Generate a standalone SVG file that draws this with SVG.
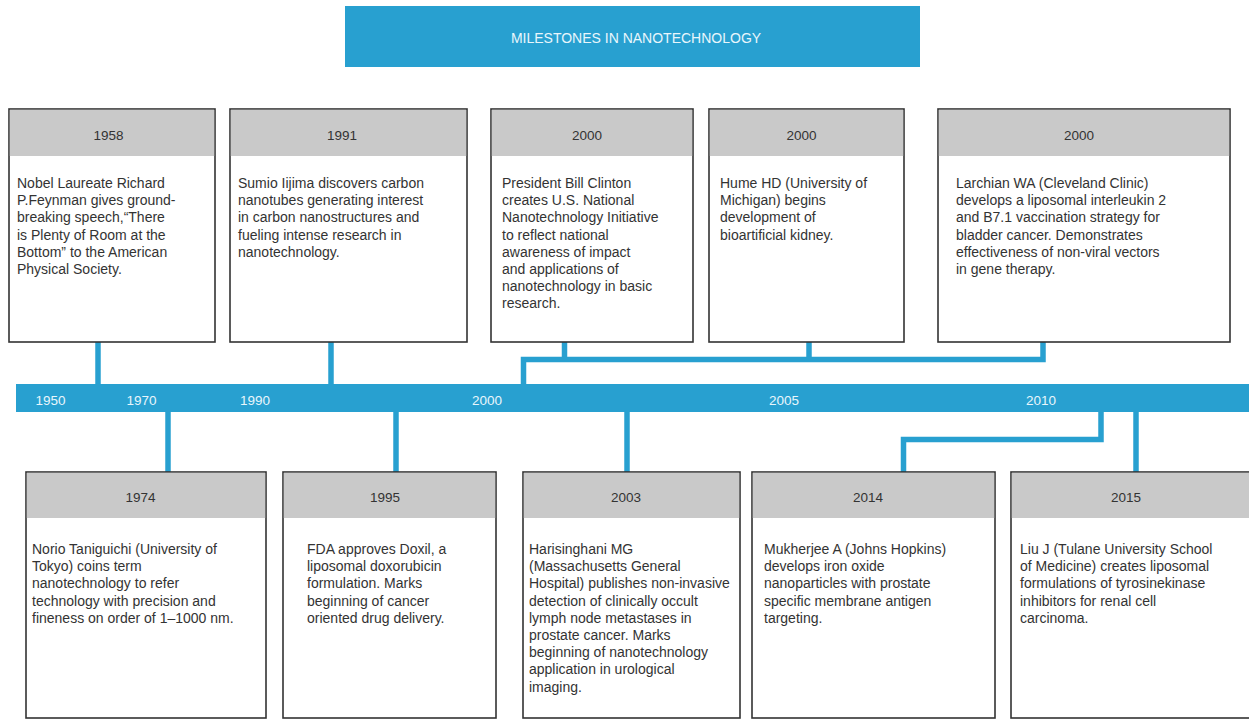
<svg xmlns="http://www.w3.org/2000/svg" width="1249" height="719" viewBox="0 0 1249 719">
<style>
.box{fill:#fff;stroke:#333;stroke-width:1.6}
.hdr{fill:#c9c9c9}
.yr{font-family:"Liberation Sans",Arial,sans-serif;font-size:13.5px;fill:#333;text-anchor:middle}
.body{font-family:"Liberation Sans",Arial,sans-serif;font-size:14px;fill:#333}
.tl{font-family:"Liberation Sans",Arial,sans-serif;font-size:13.5px;fill:#e8f6fc;text-anchor:middle}
.conn{fill:none;stroke:#28a0d0;stroke-width:5.5}
</style>
<rect width="1249" height="719" fill="#fff"/>
<g id="title">
<rect x="345" y="6" width="575" height="61" fill="#28a0d0"/>
<text x="636" y="43" font-family="'Liberation Sans',Arial,sans-serif" font-size="14" fill="#e8f6fc" text-anchor="middle">MILESTONES IN NANOTECHNOLOGY</text>
</g>
<g id="connectors">
<polyline class="conn" points="98,342 98,386"/>
<polyline class="conn" points="331,342 331,386"/>
<polyline class="conn" points="564.5,342 564.5,359.5"/>
<polyline class="conn" points="809,342 809,359.5"/>
<polyline class="conn" points="523.5,386 523.5,359.5 1043,359.5 1043,342"/>
<polyline class="conn" points="168,411 168,472"/>
<polyline class="conn" points="396,411 396,472"/>
<polyline class="conn" points="627,411 627,472"/>
<polyline class="conn" points="903.5,472 903.5,439.5 1101,439.5 1101,411"/>
<polyline class="conn" points="1136,411 1136,472"/>
</g>
<g id="timeline">
<rect x="16" y="384" width="1240" height="28" fill="#28a0d0"/>
<text class="tl" x="50.5" y="405">1950</text>
<text class="tl" x="141.5" y="405">1970</text>
<text class="tl" x="255" y="405">1990</text>
<text class="tl" x="487" y="405">2000</text>
<text class="tl" x="784" y="405">2005</text>
<text class="tl" x="1041" y="405">2010</text>
</g>
<g id="m1958">
<rect class="box" x="9" y="109" width="206" height="233"/>
<rect class="hdr" x="9.8" y="109.8" width="204.4" height="46.2"/>
<text class="yr" x="108.5" y="140">1958</text>
<text class="body" x="17" y="188"><tspan x="17">Nobel Laureate Richard</tspan><tspan x="17" dy="17.2">P.Feynman gives ground-</tspan><tspan x="17" dy="17.2">breaking speech,“There</tspan><tspan x="17" dy="17.2">is Plenty of Room at the</tspan><tspan x="17" dy="17.2">Bottom” to the American</tspan><tspan x="17" dy="17.2">Physical Society.</tspan></text>
</g>
<g id="m1991">
<rect class="box" x="230" y="109" width="237" height="233"/>
<rect class="hdr" x="230.8" y="109.8" width="235.4" height="46.2"/>
<text class="yr" x="342" y="140">1991</text>
<text class="body" x="238" y="188"><tspan x="238">Sumio Iijima discovers carbon</tspan><tspan x="238" dy="17.2">nanotubes generating interest</tspan><tspan x="238" dy="17.2">in carbon nanostructures and</tspan><tspan x="238" dy="17.2">fueling intense research in</tspan><tspan x="238" dy="17.2">nanotechnology.</tspan></text>
</g>
<g id="m2000a">
<rect class="box" x="491" y="109" width="202" height="233"/>
<rect class="hdr" x="491.8" y="109.8" width="200.4" height="46.2"/>
<text class="yr" x="587" y="140">2000</text>
<text class="body" x="502" y="188"><tspan x="502">President Bill Clinton</tspan><tspan x="502" dy="17.2">creates U.S. National</tspan><tspan x="502" dy="17.2">Nanotechnology Initiative</tspan><tspan x="502" dy="17.2">to reflect national</tspan><tspan x="502" dy="17.2">awareness of impact</tspan><tspan x="502" dy="17.2">and applications of</tspan><tspan x="502" dy="17.2">nanotechnology in basic</tspan><tspan x="502" dy="17.2">research.</tspan></text>
</g>
<g id="m2000b">
<rect class="box" x="709" y="109" width="195" height="233"/>
<rect class="hdr" x="709.8" y="109.8" width="193.4" height="46.2"/>
<text class="yr" x="801.5" y="140">2000</text>
<text class="body" x="720" y="188"><tspan x="720">Hume HD (University of</tspan><tspan x="720" dy="17.2">Michigan) begins</tspan><tspan x="720" dy="17.2">development of</tspan><tspan x="720" dy="17.2">bioartificial kidney.</tspan></text>
</g>
<g id="m2000c">
<rect class="box" x="938" y="109" width="292" height="233"/>
<rect class="hdr" x="938.8" y="109.8" width="290.4" height="46.2"/>
<text class="yr" x="1079" y="140">2000</text>
<text class="body" x="956" y="188"><tspan x="956">Larchian WA (Cleveland Clinic)</tspan><tspan x="956" dy="17.2">develops a liposomal interleukin 2</tspan><tspan x="956" dy="17.2">and B7.1 vaccination strategy for</tspan><tspan x="956" dy="17.2">bladder cancer. Demonstrates</tspan><tspan x="956" dy="17.2">effectiveness of non-viral vectors</tspan><tspan x="956" dy="17.2">in gene therapy.</tspan></text>
</g>
<g id="m1974">
<rect class="box" x="26" y="472" width="240" height="246"/>
<rect class="hdr" x="26.8" y="472.8" width="238.4" height="45.2"/>
<text class="yr" x="140.5" y="502">1974</text>
<text class="body" x="32" y="554"><tspan x="32">Norio Taniguichi (University of</tspan><tspan x="32" dy="17.2">Tokyo) coins term</tspan><tspan x="32" dy="17.2">nanotechnology to refer</tspan><tspan x="32" dy="17.2">technology with precision and</tspan><tspan x="32" dy="17.2">fineness on order of 1–1000 nm.</tspan></text>
</g>
<g id="m1995">
<rect class="box" x="283" y="472" width="213" height="246"/>
<rect class="hdr" x="283.8" y="472.8" width="211.4" height="45.2"/>
<text class="yr" x="385" y="502">1995</text>
<text class="body" x="307" y="554"><tspan x="307">FDA approves Doxil, a</tspan><tspan x="307" dy="17.2">liposomal doxorubicin</tspan><tspan x="307" dy="17.2">formulation. Marks</tspan><tspan x="307" dy="17.2">beginning of cancer</tspan><tspan x="307" dy="17.2">oriented drug delivery.</tspan></text>
</g>
<g id="m2003">
<rect class="box" x="523" y="472" width="217" height="246"/>
<rect class="hdr" x="523.8" y="472.8" width="215.4" height="45.2"/>
<text class="yr" x="626" y="502">2003</text>
<text class="body" x="529" y="554"><tspan x="529">Harisinghani MG</tspan><tspan x="529" dy="17.2">(Massachusetts General</tspan><tspan x="529" dy="17.2">Hospital) publishes non-invasive</tspan><tspan x="529" dy="17.2">detection of clinically occult</tspan><tspan x="529" dy="17.2">lymph node metastases in</tspan><tspan x="529" dy="17.2">prostate cancer. Marks</tspan><tspan x="529" dy="17.2">beginning of nanotechnology</tspan><tspan x="529" dy="17.2">application in urological</tspan><tspan x="529" dy="17.2">imaging.</tspan></text>
</g>
<g id="m2014">
<rect class="box" x="752" y="472" width="243" height="246"/>
<rect class="hdr" x="752.8" y="472.8" width="241.4" height="45.2"/>
<text class="yr" x="868" y="502">2014</text>
<text class="body" x="764" y="554"><tspan x="764">Mukherjee A (Johns Hopkins)</tspan><tspan x="764" dy="17.2">develops iron oxide</tspan><tspan x="764" dy="17.2">nanoparticles with prostate</tspan><tspan x="764" dy="17.2">specific membrane antigen</tspan><tspan x="764" dy="17.2">targeting.</tspan></text>
</g>
<g id="m2015">
<rect class="box" x="1011" y="472" width="245" height="246"/>
<rect class="hdr" x="1011.8" y="472.8" width="243.4" height="45.2"/>
<text class="yr" x="1126" y="502">2015</text>
<text class="body" x="1020" y="554"><tspan x="1020">Liu J (Tulane University School</tspan><tspan x="1020" dy="17.2">of Medicine) creates liposomal</tspan><tspan x="1020" dy="17.2">formulations of tyrosinekinase</tspan><tspan x="1020" dy="17.2">inhibitors for renal cell</tspan><tspan x="1020" dy="17.2">carcinoma.</tspan></text>
</g>
</svg>
